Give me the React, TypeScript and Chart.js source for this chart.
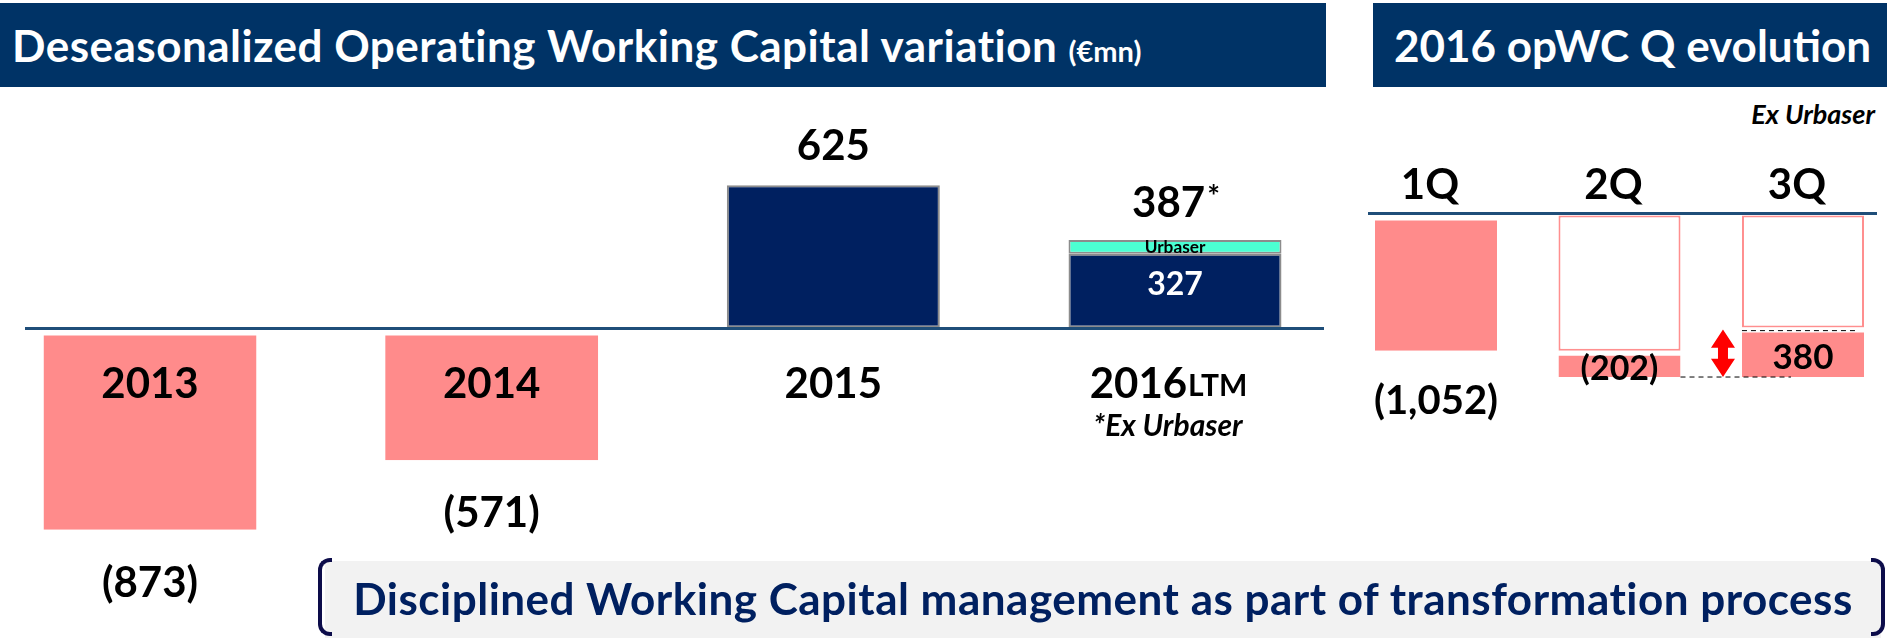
import React, { useEffect, useRef } from "react";
import { Chart, registerables } from "chart.js";

Chart.register(...registerables);

// ---------- data ----------
const yearLabels = ["2013", "2014", "2015", "2016"];
const yearSuffix = ["", "", "", "LTM"];
const opwcValues = [-873, -571, 625, 327];
const urbaserValues = [0, 0, 0, 60];
const valueLabels = ["(873)", "(571)", "625", "387"];

const quarterLabels = ["1Q", "2Q", "3Q"];
const quarterChanges = [-1052, -202, 380];
const quarterChangeLabels = ["(1,052)", "(202)", "380"];

// ---------- styles ----------
const PINK = "#FF8B8B";
const PINK_EDGE = "#FF8F8F";
const NAVY = "#002060";
const GRAY = "#8C8C8C";
const CYAN = "#4BFFD2";
const BASE = "#1F4E79";
const HEADER = "#003366";
const FONT = "Lato";

// cumulative levels for the quarterly waterfall
const cumLevels: number[] = [];
quarterChanges.reduce((acc, v) => {
  const n = acc + v;
  cumLevels.push(n);
  return n;
}, 0);
const priorLevels = cumLevels.map((c, i) => (i === 0 ? 0 : cumLevels[i - 1]));

function capText(
  ctx: CanvasRenderingContext2D,
  text: string,
  x: number,
  cy: number,
  size: number,
  color: string,
  align: CanvasTextAlign = "center",
  italic = false
) {
  ctx.font = `${italic ? "italic " : ""}bold ${size}px ${FONT}`;
  ctx.fillStyle = color;
  ctx.textAlign = align;
  ctx.textBaseline = "alphabetic";
  ctx.fillText(text, x, cy + 0.358 * size);
}

const leftLabelsPlugin = {
  id: "leftLabels",
  afterDraw(chart: any) {
    const ctx: CanvasRenderingContext2D = chart.ctx;
    const yScale = chart.scales.y;
    const y0 = yScale.getPixelForValue(0);
    const m0 = chart.getDatasetMeta(0);
    const m1 = chart.getDatasetMeta(1);
    ctx.save();
    yearLabels.forEach((lab, i) => {
      const bar: any = m0.data[i];
      const x = bar.x;
      const v = opwcValues[i];
      const catY = y0 + 54;
      if (yearSuffix[i]) {
        ctx.font = `bold 42px ${FONT}`;
        const w1 = ctx.measureText(lab).width;
        ctx.font = `bold 30px ${FONT}`;
        const w2 = ctx.measureText(yearSuffix[i]).width;
        const sx = x - 7 - (w1 + w2) / 2;
        capText(ctx, lab, sx, catY, 42, "#000", "left");
        capText(ctx, yearSuffix[i], sx + w1 + 1, catY + 2, 30, "#000", "left");
      } else {
        capText(ctx, lab, x, catY, 42, "#000");
      }
      if (v < 0) {
        const end = yScale.getPixelForValue(v);
        capText(ctx, valueLabels[i], x, end + 52, 42, "#000");
      } else {
        const u = urbaserValues[i];
        if (u) {
          const ub: any = m1.data[i];
          const top = ub.y;
          ctx.font = `bold 42px ${FONT}`;
          const w1 = ctx.measureText(valueLabels[i]).width;
          ctx.font = `bold 30px ${FONT}`;
          const w2 = ctx.measureText("*").width;
          const sx = x - (w1 + w2) / 2;
          capText(ctx, valueLabels[i], sx, top - 38, 42, "#000", "left");
          capText(ctx, "*", sx + w1 + 2, top - 44, 30, "#000", "left");
          const h = ub.base - ub.y;
          const fs = Math.max(12, Math.min(22, h * 1.25));
          capText(ctx, "Urbaser", x, (ub.y + ub.base) / 2, fs, "#000");
          const navyTop = bar.y;
          const navyH = bar.base - bar.y;
          capText(ctx, String(v), x, navyTop + navyH * 0.4, 32, "#FFFFFF");
          capText(ctx, "*Ex Urbaser", x - 7, catY + 42, 30, "#000", "center", true);
        } else {
          capText(ctx, valueLabels[i], x, bar.y - 40, 42, "#000");
        }
      }
    });
    ctx.restore();
  },
};

const rightLabelsPlugin = {
  id: "rightLabels",
  afterDraw(chart: any) {
    const ctx: CanvasRenderingContext2D = chart.ctx;
    const yScale = chart.scales.y;
    const y0 = yScale.getPixelForValue(0);
    const mChange = chart.getDatasetMeta(0);
    ctx.save();
    quarterLabels.forEach((lab, i) => {
      const bar: any = mChange.data[i];
      const x = bar.x;
      capText(ctx, lab, x - 6, y0 - 30, 42, "#000");
      const top = Math.min(bar.y, bar.base);
      const bot = Math.max(bar.y, bar.base);
      if (i === 0) {
        capText(ctx, quarterChangeLabels[i], x, bot + 49, 40, "#000");
      } else {
        capText(ctx, quarterChangeLabels[i], x, (top + bot) / 2 + 4, i === 1 ? 34 : 35, "#000");
      }
    });
    // dashed guide lines and arrow for the last quarter
    const n = quarterLabels.length - 1;
    const last: any = mChange.data[n];
    const prev: any = mChange.data[n - 1];
    const yPrior = yScale.getPixelForValue(priorLevels[n]);
    const yCum = yScale.getPixelForValue(cumLevels[n]);
    ctx.strokeStyle = "#000";
    ctx.lineWidth = 1;
    ctx.setLineDash([5, 4]);
    ctx.beginPath();
    ctx.moveTo(last.x - last.width / 2, yCum + 3);
    ctx.lineTo(last.x + last.width / 2 - 7, yCum + 3);
    ctx.moveTo(prev.x + prev.width / 2, yPrior);
    ctx.lineTo(last.x - 12, yPrior);
    ctx.stroke();
    ctx.setLineDash([]);
    // double-headed arrow
    const ax = last.x - last.width / 2 - 19;
    const yT = Math.min(yPrior, yCum) + 2;
    const yB = Math.max(yPrior, yCum);
    const hw = 12, hh = Math.min(20, (yB - yT) / 2.6), sw = 5;
    ctx.fillStyle = "#FF0000";
    ctx.beginPath();
    ctx.moveTo(ax, yT);
    ctx.lineTo(ax + hw, yT + hh);
    ctx.lineTo(ax + sw, yT + hh);
    ctx.lineTo(ax + sw, yB - hh);
    ctx.lineTo(ax + hw, yB - hh);
    ctx.lineTo(ax, yB);
    ctx.lineTo(ax - hw, yB - hh);
    ctx.lineTo(ax - sw, yB - hh);
    ctx.lineTo(ax - sw, yT + hh);
    ctx.lineTo(ax - hw, yT + hh);
    ctx.closePath();
    ctx.fill();
    ctx.restore();
  },
};

const zeroOnlyTicks = (s: any) => {
  s.ticks = [{ value: 0 }];
};

export default function App() {
  const leftRef = useRef<HTMLCanvasElement>(null);
  const rightRef = useRef<HTMLCanvasElement>(null);

  useEffect(() => {
    document.body.style.margin = "0";
    const gapTop = { top: 5, left: 0, right: 0, bottom: 0 };

    const left = new Chart(leftRef.current as HTMLCanvasElement, {
      type: "bar",
      data: {
        datasets: [
          {
            label: "Operating working capital variation",
            data: opwcValues.map((v, i) => ({ x: i, y: v })) as any,
            backgroundColor: opwcValues.map((v) => (v < 0 ? PINK : NAVY)),
            borderColor: opwcValues.map((v) => (v < 0 ? "#FFFFFF" : GRAY)),
            borderWidth: ((ctx: any) => (opwcValues[ctx.dataIndex] < 0 ? gapTop : 2)) as any,
            borderSkipped: false,
            stack: "s",
          },
          {
            label: "Urbaser",
            data: urbaserValues.map((v, i) => ({ x: i, y: v ? v : null })) as any,
            backgroundColor: CYAN,
            borderColor: GRAY,
            borderWidth: 2,
            borderSkipped: false,
            stack: "s",
          },
        ],
      },
      options: {
        responsive: false,
        animation: false,
        layout: { padding: { left: 25, right: 16, top: 0, bottom: 0 } },
        datasets: { bar: { barPercentage: 0.6234, categoryPercentage: 1 } },
        plugins: { legend: { display: false }, tooltip: { enabled: false } },
        scales: {
          x: {
            type: "linear",
            min: -0.3659,
            max: 3.4361,
            offset: false,
            grid: { offset: false },
            display: false,
            stacked: true,
            afterBuildTicks: (s: any) => {
              s.ticks = yearLabels.map((_, i) => ({ value: i }));
            },
          },
          y: {
            type: "linear",
            min: -1343.5,
            max: 1039.1,
            stacked: true,
            display: true,
            ticks: { display: false },
            border: { display: false },
            grid: {
              z: 1,
              drawTicks: false,
              lineWidth: 3,
              color: (c: any) => (c.tick && c.tick.value === 0 ? BASE : "rgba(0,0,0,0)"),
            },
            afterBuildTicks: zeroOnlyTicks,
          },
        },
      } as any,
      plugins: [leftLabelsPlugin],
    });

    const right = new Chart(rightRef.current as HTMLCanvasElement, {
      type: "bar",
      data: {
        datasets: [
          {
            label: "Quarterly change",
            data: quarterChanges.map((_, i) => ({ x: i, y: [priorLevels[i], cumLevels[i]] })) as any,
            backgroundColor: PINK,
            borderColor: "#FFFFFF",
            borderWidth: { top: 5, left: 0, right: 0, bottom: 0 } as any,
            borderSkipped: false,
          },
          {
            label: "Starting level",
            data: quarterChanges.map((_, i) => {
              const near = Math.max(priorLevels[i], cumLevels[i]);
              return { x: i, y: near < 0 ? [0, near] : null };
            }) as any,
            backgroundColor: "#FFFFFF",
            borderColor: PINK_EDGE,
            borderWidth: 2,
            borderSkipped: false,
          },
        ],
      },
      options: {
        responsive: false,
        animation: false,
        layout: { padding: { left: 28, right: 10, top: 0, bottom: 0 } },
        datasets: { bar: { barPercentage: 0.665, categoryPercentage: 1 } },
        plugins: { legend: { display: false }, tooltip: { enabled: false } },
        scales: {
          x: {
            type: "linear",
            min: -0.3706,
            max: 2.4033,
            offset: false,
            grid: { offset: false },
            display: false,
            stacked: true,
            afterBuildTicks: (s: any) => {
              s.ticks = quarterLabels.map((_, i) => ({ value: i }));
            },
          },
          y: {
            type: "linear",
            min: -3261.5,
            max: 953.8,
            display: true,
            ticks: { display: false },
            border: { display: false },
            grid: {
              z: 1,
              drawTicks: false,
              lineWidth: 3,
              color: (c: any) => (c.tick && c.tick.value === 0 ? BASE : "rgba(0,0,0,0)"),
            },
            afterBuildTicks: zeroOnlyTicks,
          },
        },
      } as any,
      plugins: [rightLabelsPlugin],
    });

    return () => {
      left.destroy();
      right.destroy();
    };
  }, []);

  const band: React.CSSProperties = {
    position: "absolute",
    top: 3,
    height: 84,
    background: HEADER,
    color: "#FFFFFF",
    fontFamily: FONT,
    fontWeight: 700,
    fontSize: 44,
    lineHeight: "84px",
    whiteSpace: "nowrap",
    boxSizing: "border-box",
  };

  const bracket = (side: "left" | "right"): React.CSSProperties => ({
    position: "absolute",
    top: 558,
    height: 78,
    width: 14,
    [side]: side === "left" ? 318 : 2,
    boxSizing: "border-box",
    border: "4px solid #0C0C4A",
    [side === "left" ? "borderRight" : "borderLeft"]: "none",
    borderRadius: side === "left" ? "12px 0 0 12px" : "0 12px 12px 0",
  } as React.CSSProperties);

  return (
    <div
      style={{
        position: "fixed",
        left: 0,
        top: 0,
        width: 1887,
        height: 638,
        overflow: "hidden",
        background: "#FFFFFF",
      }}
    >
      <div style={{ ...band, left: 0, width: 1326, paddingLeft: 12, letterSpacing: 0.5 }}>
        Deseasonalized Operating Working Capital variation{" "}
        <span style={{ fontSize: 29, letterSpacing: 0 }}>(€mn)</span>
      </div>
      <div style={{ ...band, left: 1373, width: 514, paddingLeft: 21 }}>2016 opWC Q evolution</div>
      <div
        style={{
          position: "absolute",
          right: 12,
          top: 97,
          fontFamily: FONT,
          fontWeight: 700,
          fontStyle: "italic",
          fontSize: 27,
          lineHeight: "34px",
          color: "#000",
        }}
      >
        Ex Urbaser
      </div>
      <canvas
        ref={leftRef}
        width={1340}
        height={548}
        style={{ position: "absolute", left: 0, top: 90, width: 1340, height: 548 }}
      />
      <canvas
        ref={rightRef}
        width={547}
        height={548}
        style={{ position: "absolute", left: 1340, top: 90, width: 547, height: 548 }}
      />
      <div
        style={{
          position: "absolute",
          left: 325,
          top: 561,
          width: 1556,
          height: 80,
          background: "#F2F2F2",
        }}
      />
      <div style={bracket("left")} />
      <div style={bracket("right")} />
      <div
        style={{
          position: "absolute",
          left: 325,
          top: 558,
          width: 1556,
          height: 80,
          lineHeight: "80px",
          textAlign: "center",
          fontFamily: FONT,
          fontWeight: 700,
          fontSize: 44,
          letterSpacing: 0.5,
          color: "#002060",
          whiteSpace: "nowrap",
        }}
      >
        Disciplined Working Capital management as part of transformation process
      </div>
    </div>
  );
}
